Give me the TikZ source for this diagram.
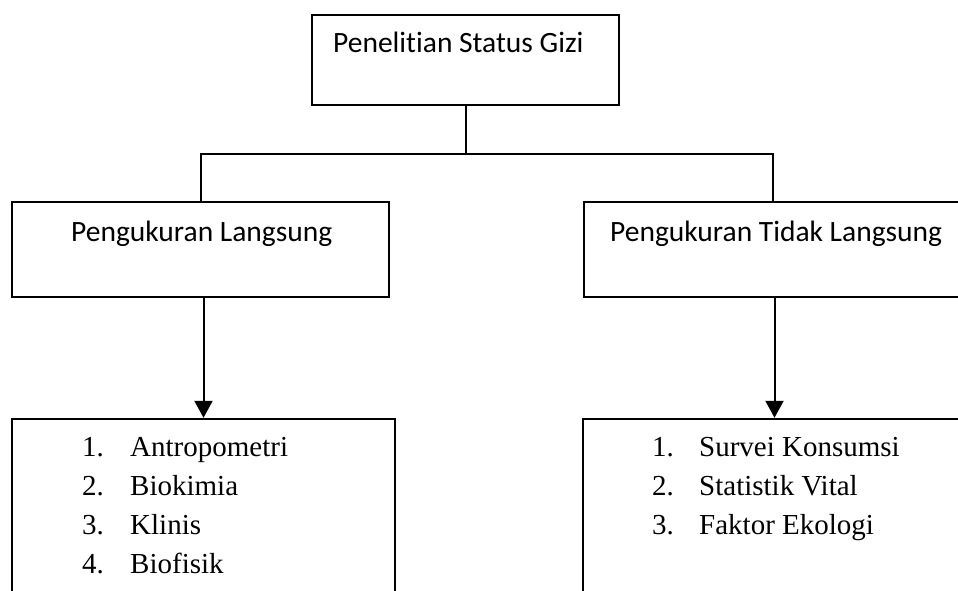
\documentclass[tikz,border=0pt]{standalone}
\usepackage{fontspec}
\setmainfont{Liberation Serif}
\newfontfamily\calib[Ligatures=NoCommon]{Carlito}
\usetikzlibrary{arrows.meta}
\tikzset{
  box/.style={draw, line width=2pt, rectangle, inner sep=0pt},
  listbox/.style={draw, line width=2.4pt, rectangle, inner sep=0pt},
  headtxt/.style={anchor=base west, inner sep=0pt, font=\calib\fontsize{29.5}{34}\selectfont},
  itemtxt/.style={anchor=base west, inner sep=0pt, font=\fontsize{29}{34}\selectfont},
  conn/.style={line width=2pt},
  arr/.style={line width=2pt, -{Triangle[length=17pt,width=18pt]}}
}
\begin{document}
\begin{tikzpicture}[x=1pt,y=-1pt]
\useasboundingbox (0,0) rectangle (958,591);
\clip (0,0) rectangle (958,591);
\fill[white] (0,0) rectangle (958,591);
% boxes
\node[box, minimum width=307pt, minimum height=90pt] (top) at (465.5,60) {};
\node[box, minimum width=377pt, minimum height=95pt] (lbox) at (200.5,249.5) {};
\node[box, minimum width=378pt, minimum height=95pt] (rbox) at (773,249.5) {};
\node[listbox, minimum width=383pt, minimum height=201pt] (lbot) at (203.5,519.5) {};
\node[listbox, minimum width=383pt, minimum height=201pt] (rbot) at (774.5,519.5) {};
% texts
\node[headtxt] (ttop) at (333,53) {Penelitian Status Gizi};
\node[headtxt] (tl) at (71,241) {Pengukuran Langsung};
\node[headtxt] (tr) at (610,241) {Pengukuran Tidak Langsung};
\node[itemtxt] (ln1) at (82,456) {1.};
\node[itemtxt] (la1) at (130,456) {Antropometri};
\node[itemtxt] (ln2) at (82,495) {2.};
\node[itemtxt] (la2) at (130,495) {Biokimia};
\node[itemtxt] (ln3) at (82,534) {3.};
\node[itemtxt] (la3) at (130,534) {Klinis};
\node[itemtxt] (ln4) at (82,573) {4.};
\node[itemtxt] (la4) at (130,573) {Biofisik};
\node[itemtxt] (rn1) at (652,456) {1.};
\node[itemtxt] (ra1) at (699,456) {Survei Konsumsi};
\node[itemtxt] (rn2) at (652,495) {2.};
\node[itemtxt] (ra2) at (699,495) {Statistik Vital};
\node[itemtxt] (rn3) at (652,534) {3.};
\node[itemtxt] (ra3) at (699,534) {Faktor Ekologi};
% connectors
\draw[conn] (top.south) -- ++(0,48) coordinate (j);
\draw[conn] (lbox.north) |- (j) -| (rbox.north);
\draw[arr] (lbot.north |- lbox.south) -- (lbot.north);
\draw[arr] (rbot.north |- rbox.south) -- (rbot.north);
\end{tikzpicture}
\end{document}
